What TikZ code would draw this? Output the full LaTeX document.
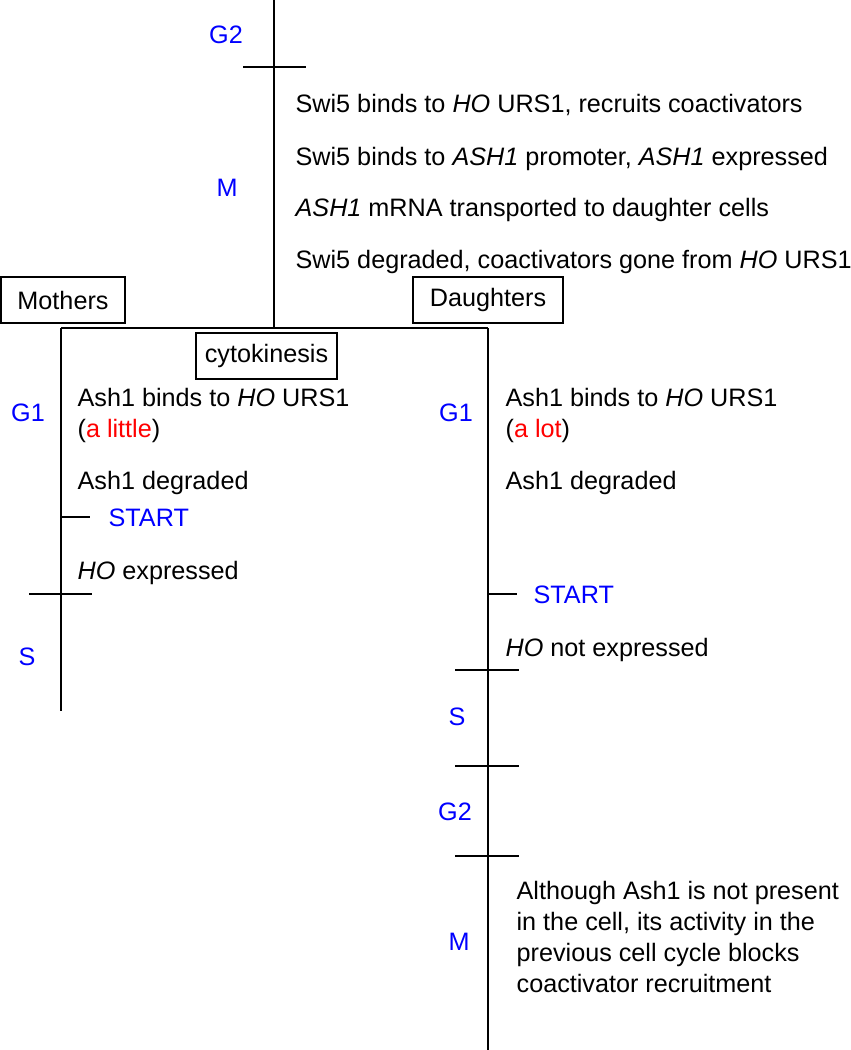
\documentclass[tikz,border=0pt]{standalone}
\usepackage{fontspec}
\setmainfont{Liberation Sans}
\usetikzlibrary{positioning}

\begin{document}
\begin{tikzpicture}[x=1pt, y=-1pt, line width=1.3pt,
  every node/.style={font=\fontsize{25.2}{31}\selectfont},
  phase/.style={text=blue, inner sep=0pt},
  event/.style={anchor=base west, inner sep=0pt},
  cellbox/.style={draw, minimum height=46pt, inner sep=0pt},
  ]
  \useasboundingbox (0,0) rectangle (851,1050);

  % the cell cycle lines
  \coordinate (top)   at (274,0);
  \coordinate (split) at (274,328);
  \coordinate (mtop)  at (61,328);
  \coordinate (mbot)  at (61,711);
  \coordinate (dtop)  at (488,328);
  \coordinate (dbot)  at (488,1050);
  \draw (top) -- (split);
  \draw (mtop) -- (dtop);
  \draw (mtop) -- (mbot);
  \draw (dtop) -- (dbot);

  % phase boundaries
  \draw (243,67) -- (306,67);
  \draw (61,517) -- (90,517);
  \draw (29,594) -- (92,594);
  \draw (488,594) -- (517,594);
  \draw (455,670) -- (519,670);
  \draw (455,766) -- (519,766);
  \draw (455,856) -- (519,856);

  % before division
  \node[phase] (g2top) at (226,35) {G2};
  \node[phase] (mtopl) at (227,188) {M};
  \node[event] (swi1) at (295,112) {Swi5 binds to \textit{HO} URS1, recruits coactivators};
  \node[event] (swi2) at (295,165) {Swi5 binds to \textit{ASH1} promoter, \textit{ASH1} expressed};
  \node[event] (ash)  at (295,216) {\textit{ASH1} mRNA transported to daughter cells};
  \node[event] (swi3) at (295,268) {Swi5 degraded, coactivators gone from \textit{HO} URS1};

  \node[cellbox, minimum width=124pt] (mothers) at (63,300) {Mothers};
  \node[cellbox, minimum width=150pt] (daughters) at (488,300) {Daughters};
  \node[cellbox, minimum width=141pt] (cyto) at (266.5,356) {cytokinesis};

  % mothers
  \node[phase] (g1m) at (28,413) {G1};
  \node[event] (mbind)  at (77,406) {Ash1 binds to \textit{HO} URS1};
  \node[event] (mlittle) at (77,437) {(\textcolor{red}{a little})};
  \node[event] (mdeg)   at (77,489) {Ash1 degraded};
  \node[phase, anchor=base west] (mstart) at (108,526) {START};
  \node[event] (mho)    at (77,579) {\textit{HO} expressed};
  \node[phase] (sm) at (27,657) {S};

  % daughters
  \node[phase] (g1d) at (456,413) {G1};
  \node[event] (dbind) at (505,406) {Ash1 binds to \textit{HO} URS1};
  \node[event] (dlot)  at (505,437) {(\textcolor{red}{a lot})};
  \node[event] (ddeg)  at (505,489) {Ash1 degraded};
  \node[phase, anchor=base west] (dstart) at (533,603) {START};
  \node[event] (dho)   at (505,656) {\textit{HO} not expressed};
  \node[phase] (sd)  at (457,717) {S};
  \node[phase] (g2d) at (455,812) {G2};
  \node[phase] (md)  at (459,942) {M};
  \node[anchor=north west, inner sep=0pt, align=left] (block) at (516,881)
    {Although Ash1 is not present\\in the cell, its activity in the\\previous cell cycle blocks\\coactivator recruitment};
\end{tikzpicture}
\end{document}
